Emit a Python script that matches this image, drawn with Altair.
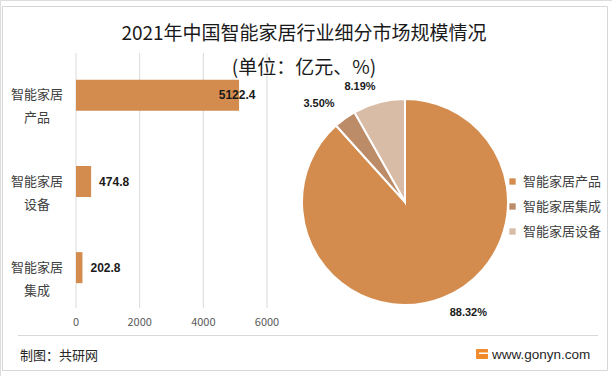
import altair as alt
import pandas as pd

# ---- data ----
categories = ["智能家居产品", "智能家居设备", "智能家居集成"]
values = [5122.4, 474.8, 202.8]
shares = ["88.32%", "8.19%", "3.50%"]
pie_order = [0, 2, 1]          # clockwise order in the pie
legend_order = ["智能家居产品", "智能家居集成", "智能家居设备"]
ticks = [0, 2000, 4000, 6000]

title_text = "2021年中国智能家居行业细分市场规模情况"
subtitle_text = "(单位：亿元、%)"
source_text = "制图：共研网"
site_text = "www.gonyn.com"

df = pd.DataFrame({
    "cat": categories,
    "value": values,
    "share": shares,
    "porder": pie_order,
})
df["label2"] = df["cat"].str[:4] + "\n" + df["cat"].str[4:]
tick_df = pd.DataFrame({"t": ticks})

CJK = "Noto Sans CJK SC"
BAR_COLOR = "#D38C4E"
pie_colors = ["#D38C4E", "#BC8C69", "#D9BCA6"]

x_scale = alt.Scale(domain=[0, 6000], range=[76, 267], nice=False, zero=True)
y_scale = alt.Scale(domain=categories, range=[54, 309], paddingInner=0.64, paddingOuter=0.3)

one = alt.Data(values=[{"a": 1}])

border = alt.Chart(one).mark_rect(fill="white", stroke="#d6d6d6", strokeWidth=1).encode(
    x=alt.value(2.5), x2=alt.value(607.5), y=alt.value(6.5), y2=alt.value(370.5))

grid = alt.Chart(tick_df).mark_rule(color="#d9d9d9", strokeWidth=1).encode(
    x=alt.X("t:Q", scale=x_scale, axis=None), y=alt.value(53), y2=alt.value(308))

tick_labels = alt.Chart(tick_df).mark_text(font=CJK, fontSize=11, color="#595959", baseline="middle").encode(
    x=alt.X("t:Q", scale=x_scale, axis=None), y=alt.value(323), text="t:Q")

base = alt.Chart(df)

bars = base.mark_bar(color=BAR_COLOR).encode(
    x=alt.X("value:Q", scale=x_scale, axis=None),
    y=alt.Y("cat:N", scale=y_scale, axis=None, sort=categories),
)

cat_labels = base.mark_text(font=CJK, fontSize=13, color="#404040", lineBreak="\n", lineHeight=23,
                            align="center", baseline="middle").encode(
    x=alt.value(37),
    y=alt.Y("cat:N", scale=y_scale, axis=None, sort=categories),
    text="label2:N",
)

val_big = base.transform_filter(alt.datum.value > 1000).mark_text(
    font="Liberation Sans", fontWeight="bold", fontSize=12, color="#1a1a1a", align="center", dx=-2,
    baseline="middle").encode(
    x=alt.X("value:Q", scale=x_scale, axis=None),
    y=alt.Y("cat:N", scale=y_scale, axis=None, sort=categories),
    text=alt.Text("value:Q", format=".1f"),
)
val_small = base.transform_filter(alt.datum.value <= 1000).mark_text(
    font="Liberation Sans", fontWeight="bold", fontSize=12, color="#1a1a1a", align="left", dx=8,
    baseline="middle").encode(
    x=alt.X("value:Q", scale=x_scale, axis=None),
    y=alt.Y("cat:N", scale=y_scale, axis=None, sort=categories),
    text=alt.Text("value:Q", format=".1f"),
)

PX, PY = 405, 202
pie = base.mark_arc(outerRadius=103, stroke="white", strokeWidth=2).encode(
    theta=alt.Theta("value:Q", stack=True),
    order=alt.Order("porder:Q"),
    color=alt.Color("cat:N", scale=alt.Scale(domain=legend_order, range=pie_colors),
                    legend=alt.Legend(title=None, orient="none", legendX=506, legendY=175,
                                      symbolType="square", symbolSize=40, symbolStrokeWidth=0,
                                      labelFont=CJK, labelFontSize=13, labelColor="#404040",
                                      labelOffset=4, rowPadding=11, padding=0)),
    x=alt.value(PX), y=alt.value(PY),
)


def pie_label(catname, dx, dy):
    return base.transform_calculate(
        lbl=f"datum.cat == '{catname}' ? datum.share : ''"
    ).mark_text(radius=118, font="Liberation Sans", fontWeight="bold", fontSize=11,
                color="#1a1a1a", dx=dx, dy=dy, baseline="middle", align="center").encode(
        theta=alt.Theta("value:Q", stack=True),
        order=alt.Order("porder:Q"),
        text="lbl:N",
        x=alt.value(PX), y=alt.value(PY),
    )


lab1 = pie_label("智能家居设备", -15, -1)
lab2 = pie_label("智能家居集成", -17, -2)
lab3 = pie_label("智能家居产品", 21, 1)

title = alt.Chart(one).mark_text(font=CJK, fontSize=19, color="#1a1a1a", align="center", baseline="middle").encode(
    x=alt.value(304), y=alt.value(34), text=alt.value(title_text))
subtitle = alt.Chart(one).mark_text(font=CJK, fontSize=19, color="#1a1a1a", align="center", baseline="middle").encode(
    x=alt.value(304), y=alt.value(68), text=alt.value(subtitle_text))

footer_line = alt.Chart(one).mark_rule(color="#d9d9d9", strokeWidth=1).encode(
    x=alt.value(18), x2=alt.value(598), y=alt.value(335.5))
source = alt.Chart(one).mark_text(font=CJK, fontSize=13, color="#262626", align="left", baseline="middle").encode(
    x=alt.value(20), y=alt.value(356), text=alt.value(source_text))
logo = alt.Chart(one).mark_rect(color="#F08A2C", cornerRadius=1).encode(
    x=alt.value(476), x2=alt.value(488), y=alt.value(349), y2=alt.value(359))
logo_g = alt.Chart(one).mark_rect(color="white").encode(
    x=alt.value(479), x2=alt.value(488), y=alt.value(352.5), y2=alt.value(354))
site = alt.Chart(one).mark_text(font="Liberation Sans", fontSize=13.5, color="#262626", align="left", baseline="middle").encode(
    x=alt.value(492), y=alt.value(355), text=alt.value(site_text))

chart = alt.layer(
    border, grid, tick_labels, bars, cat_labels, val_big, val_small,
    pie, lab1, lab2, lab3, title, subtitle, footer_line, source, logo, logo_g, site,
).properties(
    width=612, height=376, autosize=alt.AutoSizeParams(type="none"), padding=0,
).configure_view(strokeWidth=0).configure(background="white")

chart.save("out.html", embed_options={"renderer": "svg", "actions": False})
